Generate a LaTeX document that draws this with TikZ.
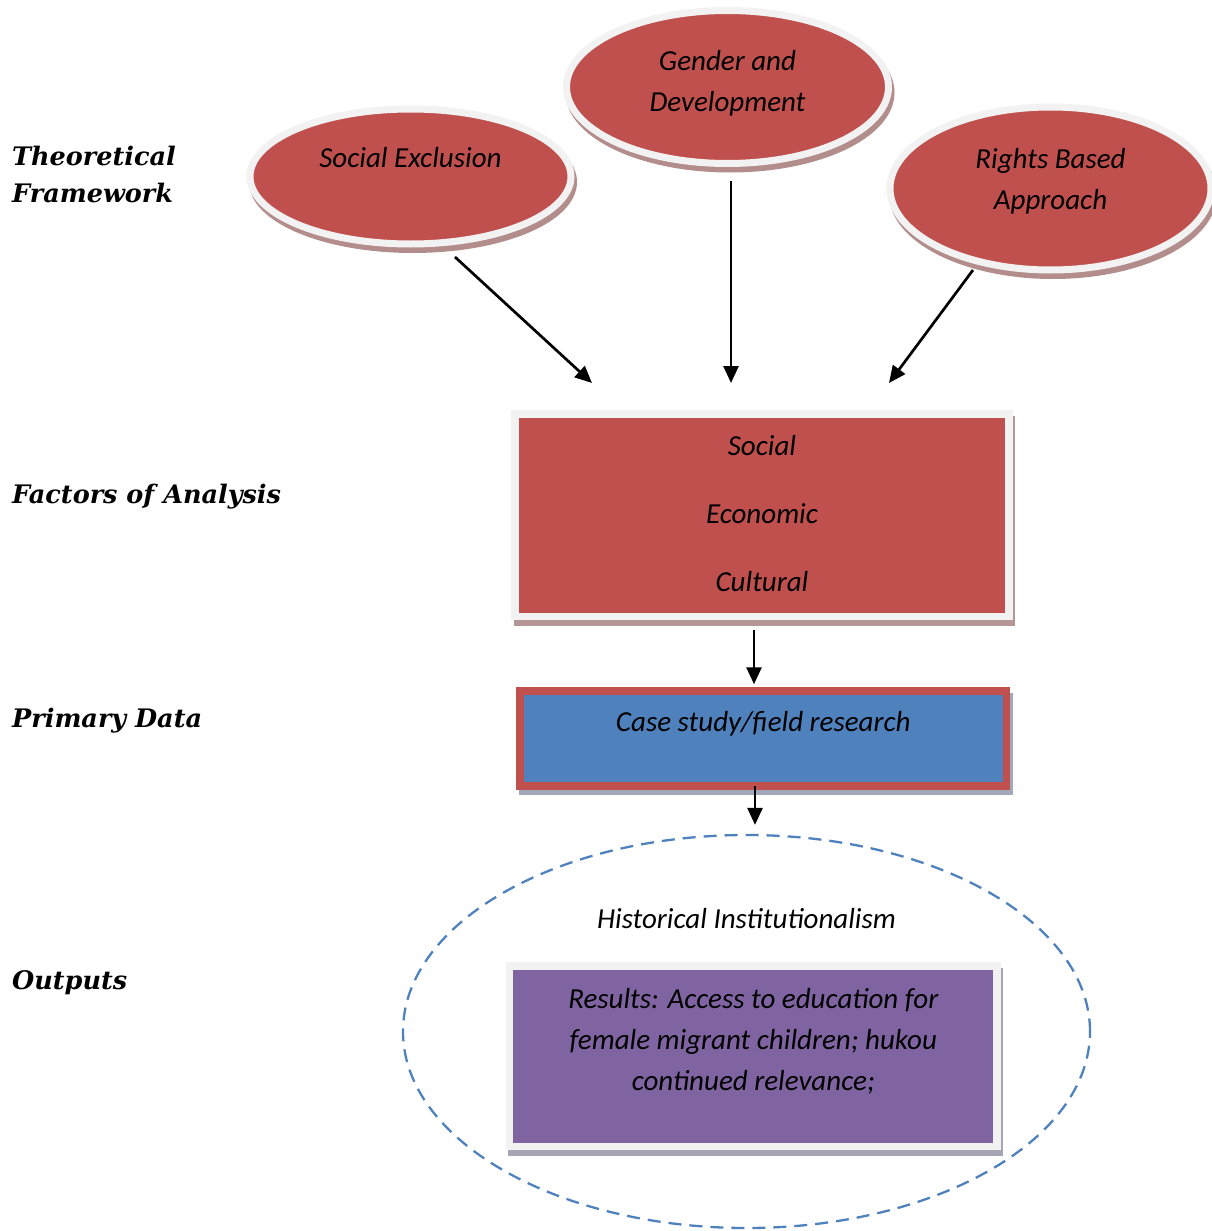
\documentclass[tikz,border=0pt]{standalone}
\usepackage{fontspec}
\setmainfont{Carlito}
\newfontfamily\lblfont{DejaVu Serif}
\usetikzlibrary{arrows.meta,shapes.geometric}
\definecolor{boxred}{HTML}{C0504D}
\definecolor{boxblue}{HTML}{4F81BD}
\definecolor{boxpurple}{HTML}{8064A2}
\definecolor{rim}{HTML}{F2F2F2}
\definecolor{shred}{HTML}{B38C8C}
\definecolor{shredbox}{HTML}{B49696}
\definecolor{shblue}{HTML}{A0A8B9}
\definecolor{shgray}{HTML}{A5A5B4}
\begin{document}
\begin{tikzpicture}[x=1pt,y=-1pt,
  txt/.style={font=\fontsize{29}{41}\selectfont\itshape, align=center, text=black, inner sep=0},
  side/.style={font=\lblfont\fontsize{25.5}{37}\selectfont\bfseries\itshape, anchor=base west, align=left, inner sep=0},
  shadowed/.style={preaction={draw=#1, fill=#1, transform canvas={shift={(2.5pt,-5.5pt)}}}},
  oval/.style={ellipse, fill=boxred, draw=rim, line width=7, inner sep=0, shadowed=shred},
  redbox/.style={rectangle, fill=boxred, draw=rim, line width=7.5, inner sep=0, shadowed=shredbox},
  bluebox/.style={rectangle, fill=boxblue, draw=boxred, line width=7.5, inner sep=0, shadowed=shblue},
  purplebox/.style={rectangle, fill=boxpurple, draw=rim, line width=7.5, inner sep=0, shadowed=shgray},
  frame/.style={ellipse, draw=boxblue, line width=2.3, dash pattern=on 13pt off 8pt, inner sep=0},
  arr/.style={line width=2.7, -{Triangle[length=17,width=15]}}
]
\useasboundingbox (0,0) rectangle (1211,1231);

% side labels
\node[side] (tf) at (12,202) {Theoretical\\Framework};
\node[side] (fa) at (12,503) {Factors of Analysis};
\node[side] (pd) at (12,727) {Primary Data};
\node[side] (ou) at (12,989) {Outputs};

% theory ovals
\node[oval, minimum width=321, minimum height=135,
  label={[txt,yshift=18.5]center:Social Exclusion}] (se) at (410.5,176.5) {};
\node[oval, minimum width=322, minimum height=153,
  label={[txt,yshift=3.5]center:{Gender and\\Development}}] (gd) at (727.5,87) {};
\node[oval, minimum width=321, minimum height=163,
  label={[txt,yshift=7]center:{Rights Based\\Approach}}] (rb) at (1050.5,188.5) {};

% factors box
\node[redbox, minimum width=494, minimum height=202.5,
  label={[txt,font=\fontsize{29}{68}\selectfont\itshape,yshift=2]center:{Social\\Economic\\Cultural}}] (fac) at (762,515.25) {};

% primary data box
\node[bluebox, minimum width=486.5, minimum height=95,
  label={[txt,yshift=14.5]center:Case study/field research}] (prim) at (763.25,738.5) {};

% outputs frame and results box
\node[frame, minimum width=687, minimum height=393,
  label={[txt,yshift=112.5]center:Historical Institutionalism}] (hi) at (746.5,1031.5) {};
\node[purplebox, minimum width=487.5, minimum height=180.5,
  label={[txt,yshift=15]center:{Results: Access to education for\\female migrant children; hukou\\continued relevance;}}] (res) at (753.25,1056.25) {};

% connectors
\coordinate (se-out) at (455,257);
\coordinate (gd-out) at (731,181);
\coordinate (rb-out) at (973,270);
\coordinate (fac-in1) at (592,383);
\coordinate (fac-in2) at (731,383);
\coordinate (fac-in3) at (889,383);
\draw[arr] (se-out) -- (fac-in1);
\draw[arr] (gd-out) -- (fac-in2);
\draw[arr] (rb-out) -- (fac-in3);
\draw[arr, shorten >=3] ([shift={(-8,10)}]fac.south) -- ([xshift=-9.25]prim.north);
\draw[arr, shorten >=9] ([shift={(-8.25,-4)}]prim.south) -- ([xshift=8.5]hi.north);
\end{tikzpicture}
\end{document}
